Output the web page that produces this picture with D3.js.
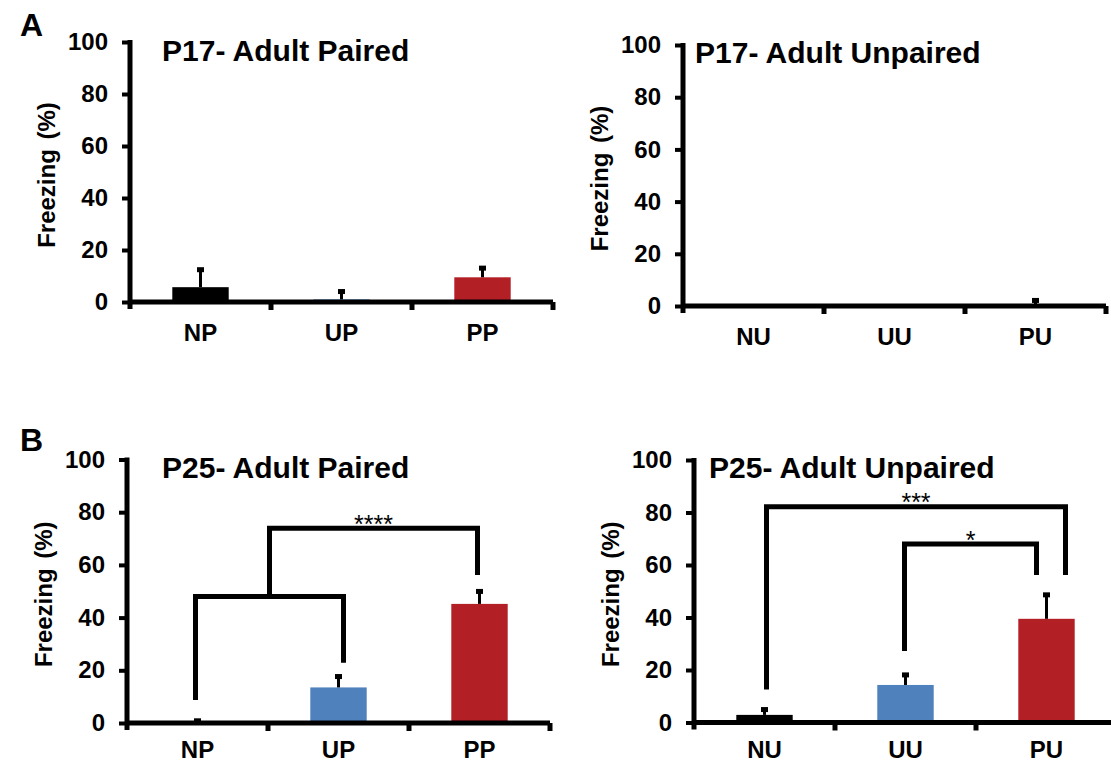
<!DOCTYPE html>
<html>
<head>
<meta charset="utf-8">
<script src="https://cdn.jsdelivr.net/npm/d3@7"></script>
<style>
  html, body { margin: 0; padding: 0; background: #ffffff; }
  svg { display: block; font-family: "Liberation Sans", Arial, sans-serif; }
</style>
</head>
<body>
<svg id="chart" width="1111" height="764"></svg>
<script>
// Freezing (%) per group: means and SEM
const pairedCategories = ["NP", "UP", "PP"];
const unpairedCategories = ["NU", "UU", "PU"];
const yTicks = [0, 20, 40, 60, 80, 100];

const p17PairedMeans = [5.7, 1.0, 9.5];
const p17PairedErrors = [7.3, 3.6, 4.1];
const p17UnpairedMeans = [0, 0, 0.3];
const p17UnpairedErrors = [0, 0, 2.4];
const p25PairedMeans = [0.3, 13.5, 45.2];
const p25PairedErrors = [1.1, 4.7, 5.3];
const p25UnpairedMeans = [2.9, 14.3, 39.5];
const p25UnpairedErrors = [2.6, 4.4, 9.7];

// significance brackets (heights in % freezing); a numeric "from" starts at an earlier bracket
const p25PairedBrackets = [
  { from: "NP", fromBase: 8.7, to: "UP", toBase: 22.9, top: 48, label: "" },
  { from: 0, fromBase: 48, to: "PP", toBase: 56.2, top: 73.9, label: "****" }
];
const p25UnpairedBrackets = [
  { from: "NU", fromBase: 12.6, to: "PU", toBase: 56.2, top: 82.2, label: "***" },
  { from: "UU", fromBase: 27.2, to: "PU", toBase: 56.2, top: 68, label: "*" }
];

const barColors = ["#000000", "#4F81BD", "#B21F25"];

const svg = d3.select("#chart");

const panels = [
  { cats: pairedCategories, means: p17PairedMeans, errs: p17PairedErrors,
    title: "P17- Adult Paired", x0: 130, yTop: 42, yBottom: 302, titleX: 162, titleY: 61,
    catOffset: 39, brackets: [], nudges: [] },
  { cats: unpairedCategories, means: p17UnpairedMeans, errs: p17UnpairedErrors,
    title: "P17- Adult Unpaired", x0: 683, yTop: 45, yBottom: 306, titleX: 695, titleY: 63,
    catOffset: 39, brackets: [], nudges: [] },
  { cats: pairedCategories, means: p25PairedMeans, errs: p25PairedErrors,
    title: "P25- Adult Paired", x0: 127, yTop: 459.5, yBottom: 723, titleX: 162, titleY: 478,
    catOffset: 35, brackets: p25PairedBrackets, nudges: [[-2, 5], [0, -2]] },
  { cats: unpairedCategories, means: p25UnpairedMeans, errs: p25UnpairedErrors,
    title: "P25- Adult Unpaired", x0: 694, yTop: 460, yBottom: 722.5, titleX: 709, titleY: 478,
    catOffset: 35, brackets: p25UnpairedBrackets, nudges: [[2, 19], [-1, -10]] }
];

const STEP = 141;

panels.forEach(p => {
  const g = svg.append("g");
  const x = d3.scaleBand()
    .domain(p.cats)
    .range([p.x0, p.x0 + STEP * p.cats.length])
    .paddingInner(0.6)
    .paddingOuter(0.3);
  const y = d3.scaleLinear().domain([0, 100]).range([p.yBottom, p.yTop]);
  const bw = x.bandwidth();
  const cx = c => x(c) + bw / 2;

  // bars
  const rows = p.cats.map((c, i) => ({ cat: c, mean: p.means[i], err: p.errs[i], color: barColors[i] }));
  g.selectAll("rect.bar").data(rows.filter(d => d.mean > 0)).join("rect")
    .attr("class", "bar")
    .attr("x", d => x(d.cat))
    .attr("width", bw)
    .attr("y", d => y(d.mean))
    .attr("height", d => y(0) - y(d.mean))
    .attr("fill", d => d.color);

  // upper error bars
  const withErr = rows.filter(d => d.err > 0);
  g.selectAll("line.err").data(withErr).join("line")
    .attr("class", "err")
    .attr("x1", d => cx(d.cat)).attr("x2", d => cx(d.cat))
    .attr("y1", d => y(d.mean)).attr("y2", d => y(d.mean + d.err))
    .attr("stroke", "#000").attr("stroke-width", 3);
  g.selectAll("rect.cap").data(withErr).join("rect")
    .attr("class", "cap")
    .attr("x", d => cx(d.cat) - 3.5)
    .attr("width", 7)
    .attr("y", d => y(d.mean + d.err) - 1)
    .attr("height", 5)
    .attr("fill", "#000");

  // y axis
  const yAxis = d3.axisLeft(y).tickValues(yTicks).tickSize(8).tickSizeOuter(0).tickPadding(14);
  const ya = g.append("g").attr("transform", `translate(${p.x0},0)`).call(yAxis);
  ya.select(".domain").remove();
  ya.selectAll(".tick line").attr("stroke", "#000").attr("stroke-width", 4);
  ya.selectAll(".tick text")
    .attr("fill", "#000")
    .style("font-family", "'Liberation Sans', Arial, sans-serif")
    .style("font-size", "24px")
    .style("font-weight", "bold");
  g.append("line")
    .attr("x1", p.x0).attr("x2", p.x0)
    .attr("y1", y(100) - 2).attr("y2", y(0) + 7)
    .attr("stroke", "#000").attr("stroke-width", 5);

  // x axis with separators between groups
  const xEnd = p.x0 + x.step() * p.cats.length;
  g.append("line")
    .attr("x1", p.x0).attr("x2", xEnd)
    .attr("y1", y(0)).attr("y2", y(0))
    .attr("stroke", "#000").attr("stroke-width", 5);
  g.selectAll("line.sep").data(d3.range(1, p.cats.length + 1)).join("line")
    .attr("class", "sep")
    .attr("x1", k => p.x0 + k * x.step()).attr("x2", k => p.x0 + k * x.step())
    .attr("y1", y(0)).attr("y2", y(0) + 8)
    .attr("stroke", "#000").attr("stroke-width", 5);
  g.selectAll("text.cat").data(p.cats).join("text")
    .attr("class", "cat")
    .attr("x", c => cx(c))
    .attr("y", y(0) + p.catOffset)
    .attr("text-anchor", "middle")
    .style("font-size", "24px").style("font-weight", "bold")
    .text(c => c);

  // y axis title
  g.append("text")
    .attr("transform", `translate(${p.x0 - 75},${(y(0) + y(100)) / 2 + 3}) rotate(-90)`)
    .attr("text-anchor", "middle")
    .style("font-size", "24px").style("font-weight", "bold")
    .style("word-spacing", "3px")
    .text("Freezing (%)");

  // panel title
  g.append("text")
    .attr("x", p.titleX).attr("y", p.titleY)
    .style("font-size", "30px").style("font-weight", "bold")
    .text(p.title);

  // significance brackets
  const mids = [];
  p.brackets.forEach((b, i) => {
    const n = p.nudges[i] || [0, 0];
    const xl = (typeof b.from === "number" ? mids[b.from] : cx(b.from)) + n[0];
    const xr = cx(b.to) + n[1];
    mids.push((xl + xr) / 2);
    g.append("path")
      .attr("d", `M${xl},${y(b.fromBase)}V${y(b.top)}H${xr}V${y(b.toBase)}`)
      .attr("fill", "none")
      .attr("stroke", "#000").attr("stroke-width", 5)
      .attr("stroke-linejoin", "miter");
    if (b.label) {
      g.append("text")
        .attr("x", (xl + xr) / 2)
        .attr("y", y(b.top) + 4.5)
        .attr("text-anchor", "middle")
        .style("font-size", "25px")
        .text(b.label);
    }
  });
});

// panel letters
svg.append("text").attr("x", 20).attr("y", 36)
  .style("font-size", "32px").style("font-weight", "bold").text("A");
svg.append("text").attr("x", 20).attr("y", 451)
  .style("font-size", "32px").style("font-weight", "bold").text("B");
</script>
</body>
</html>
